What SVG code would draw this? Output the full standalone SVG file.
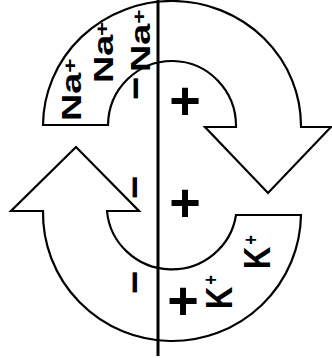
<svg xmlns="http://www.w3.org/2000/svg" width="332" height="358" viewBox="0 0 332 358">
<style>
.arrow{fill:#fff;stroke:#000;stroke-width:2.2;stroke-linejoin:miter}
.memb{stroke:#000;stroke-width:3;fill:none}
.ion{font-family:"Liberation Sans",Arial,sans-serif;font-weight:bold;fill:#000}
.sign{font-family:"Liberation Sans",Arial,sans-serif;font-weight:bold;fill:#000;text-anchor:middle}
</style>
<rect width="332" height="358" fill="#fff"/>
<g id="top-arrow">
<path class="arrow" d="M43,125 A129,125 0 0 1 301,127 L331,127 L268,193 L205,127 L236,127 A64,65 0 0 0 108,125 Z"/>
</g>
<g id="bottom-arrow">
<path class="arrow" d="M301,215 A129,128 0 0 1 43,211 L11,211 L76,147 L139,211 L107,211 A65,64 0 0 0 236,215 Z"/>
</g>
<g id="connectors">
<line id="membrane" class="memb" x1="158" y1="0" x2="158" y2="356"/>
</g>
<g id="na1"><text class="ion" font-size="28" transform="translate(81,121) rotate(-90) scale(1.35,1)">Na<tspan font-size="18" dx="0" dy="-5">+</tspan></text></g>
<g id="na2"><text class="ion" font-size="28" transform="translate(113,83) rotate(-90) scale(1.35,1)">Na<tspan font-size="18" dx="-1" dy="-5">+</tspan></text></g>
<g id="na3"><text class="ion" font-size="28" transform="translate(150,72) rotate(-90) scale(1.35,1)">Na<tspan font-size="18" dx="0" dy="-5">+</tspan></text></g>
<g id="k1"><text class="ion" font-size="37" transform="translate(232,309) rotate(-90) scale(0.83,1)">K<tspan font-size="20" dx="2.5" dy="-13.7">+</tspan></text></g>
<g id="k2"><text class="ion" font-size="37" transform="translate(270,269) rotate(-90) scale(0.83,1)">K<tspan font-size="20" dx="2.5" dy="-12.5">+</tspan></text></g>
<g id="minus1"><text class="sign" font-size="40" transform="translate(149,88.5) rotate(-90)">−</text></g>
<g id="minus2"><text class="sign" font-size="40" transform="translate(148,187.5) rotate(-90)">−</text></g>
<g id="minus3"><text class="sign" font-size="40" transform="translate(148,282.5) rotate(-90)">−</text></g>
<g id="plus1"><text class="sign" font-size="54" x="185" y="119">+</text></g>
<g id="plus2"><text class="sign" font-size="54" x="185" y="221">+</text></g>
<g id="plus3"><text class="sign" font-size="54" x="183" y="319">+</text></g>
</svg>
